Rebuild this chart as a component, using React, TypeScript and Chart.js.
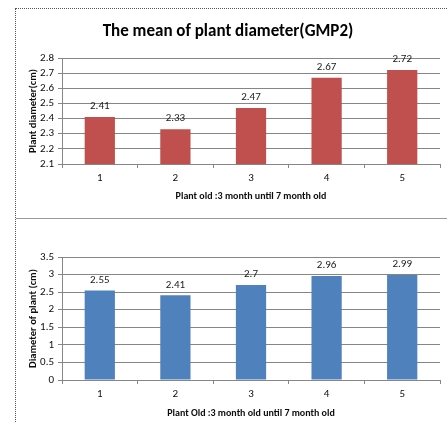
import React, { useEffect, useRef } from "react";
import { Chart, registerables } from "chart.js";

Chart.register(...registerables);

const categories = ["1", "2", "3", "4", "5"];
const diameterGmp2 = [2.41, 2.33, 2.47, 2.67, 2.72];
const diameterPlant = [2.55, 2.41, 2.7, 2.96, 2.99];
const topYTicks = [2.1, 2.2, 2.3, 2.4, 2.5, 2.6, 2.7, 2.8];
const bottomYTicks = [0, 0.5, 1, 1.5, 2, 2.5, 3, 3.5];

const topTitle = "The mean of plant diameter(GMP2)";
const topYTitle = "Plant diameter(cm)";
const topXTitle = "Plant old :3 month until 7 month old";
const bottomYTitle = "Diameter of plant (cm)";
const bottomXTitle = "Plant Old :3 month old until 7 month old";

const FONT = "Carlito, Lato, 'Liberation Sans', sans-serif";
const GRID = "#868686";
const TEXT = "#0d0d0d";

const valueLabels = {
  id: "valueLabels",
  afterDatasetsDraw(chart: any) {
    const ctx = chart.ctx;
    ctx.save();
    ctx.font = `11px ${FONT}`;
    ctx.fillStyle = "#1a1a1a";
    ctx.textAlign = "center";
    ctx.textBaseline = "middle";
    chart.data.datasets.forEach((ds: any, di: number) => {
      const meta = chart.getDatasetMeta(di);
      meta.data.forEach((el: any, i: number) => {
        ctx.fillText(String(ds.data[i]), el.x, el.y - 10.5);
      });
    });
    ctx.restore();
  },
};

function makeConfig(opts: {
  data: number[];
  color: string;
  yTicks: number[];
  yTitle: string;
  xTitle: string;
  title?: string;
  top: number;
  xHeight: number;
  xTitlePad: number;
}) {
  const yt = opts.yTicks;
  return {
    type: "bar" as const,
    data: {
      labels: categories,
      datasets: [
        {
          data: opts.data,
          backgroundColor: opts.color,
          categoryPercentage: 1,
          barPercentage: 0.4,
        },
      ],
    },
    plugins: [valueLabels],
    options: {
      animation: false as const,
      responsive: false,
      maintainAspectRatio: false,
      layout: { padding: { top: opts.title ? 0 : opts.top, right: 7, left: 0, bottom: 0 } },
      plugins: {
        legend: { display: false },
        tooltip: { enabled: false },
        title: opts.title
          ? {
              display: true,
              text: opts.title,
              color: "#000",
              font: { family: FONT, size: 17, weight: "bold" as const },
              padding: { top: 12.5, bottom: opts.top - 12.5 - 20.4 },
            }
          : { display: false },
      },
      scales: {
        x: {
          grid: {
            display: true,
            drawOnChartArea: false,
            drawTicks: true,
            tickLength: 4,
            color: GRID,
            offset: true,
          },
          border: { display: true, color: GRID },
          ticks: { color: TEXT, font: { family: FONT, size: 11 }, padding: 4 },
          title: {
            display: true,
            text: opts.xTitle,
            color: TEXT,
            font: { family: FONT, size: 10, weight: "bold" as const },
            padding: { top: 0, bottom: opts.xTitlePad },
          },
          afterFit: (s: any) => {
            s.height = opts.xHeight;
          },
        },
        y: {
          min: yt[0],
          max: yt[yt.length - 1],
          ticks: {
            autoSkip: false,
            color: TEXT,
            font: { family: FONT, size: 11 },
            padding: 4,
            callback: (v: any) => String(Math.round(Number(v) * 10) / 10),
          },
          afterBuildTicks: (s: any) => {
            s.ticks = yt.map((v) => ({ value: v }));
          },
          grid: { color: GRID, tickLength: 4, drawTicks: true },
          border: { display: true, color: GRID },
          title: {
            display: true,
            text: opts.yTitle,
            color: TEXT,
            font: { family: FONT, size: 10.5, weight: "bold" as const },
            padding: { top: 11, bottom: 0 },
          },
          afterFit: (s: any) => {
            s.width = 46;
          },
        },
      },
    },
  };
}

export default function App() {
  const ref1 = useRef<HTMLCanvasElement>(null);
  const ref2 = useRef<HTMLCanvasElement>(null);

  useEffect(() => {
    const c1 = new Chart(
      ref1.current!,
      makeConfig({
        data: diameterGmp2,
        color: "#C0504D",
        yTicks: topYTicks,
        yTitle: topYTitle,
        xTitle: topXTitle,
        title: topTitle,
        top: 49,
        xHeight: 54,
        xTitlePad: 16,
      }) as any
    );
    const c2 = new Chart(
      ref2.current!,
      makeConfig({
        data: diameterPlant,
        color: "#4F81BD",
        yTicks: bottomYTicks,
        yTitle: bottomYTitle,
        xTitle: bottomXTitle,
        top: 38,
        xHeight: 42,
        xTitlePad: 3,
      }) as any
    );
    return () => {
      c1.destroy();
      c2.destroy();
    };
  }, []);

  return (
    <div style={{ position: "absolute", left: 0, top: 0, width: 447, height: 422, background: "#fff", overflow: "hidden" }}>
      <div
        style={{
          position: "absolute",
          left: 15,
          top: 8,
          width: 440,
          height: 420,
          borderLeft: "1px dotted #555",
          borderTop: "1px dotted #555",
          boxSizing: "border-box",
        }}
      />
      <canvas ref={ref1} width={431} height={209} style={{ position: "absolute", left: 16, top: 9 }} />
      <div style={{ position: "absolute", left: 16, top: 218, width: 440, height: 1, background: "#9a9a9a" }} />
      <canvas ref={ref2} width={431} height={203} style={{ position: "absolute", left: 16, top: 219 }} />
    </div>
  );
}
